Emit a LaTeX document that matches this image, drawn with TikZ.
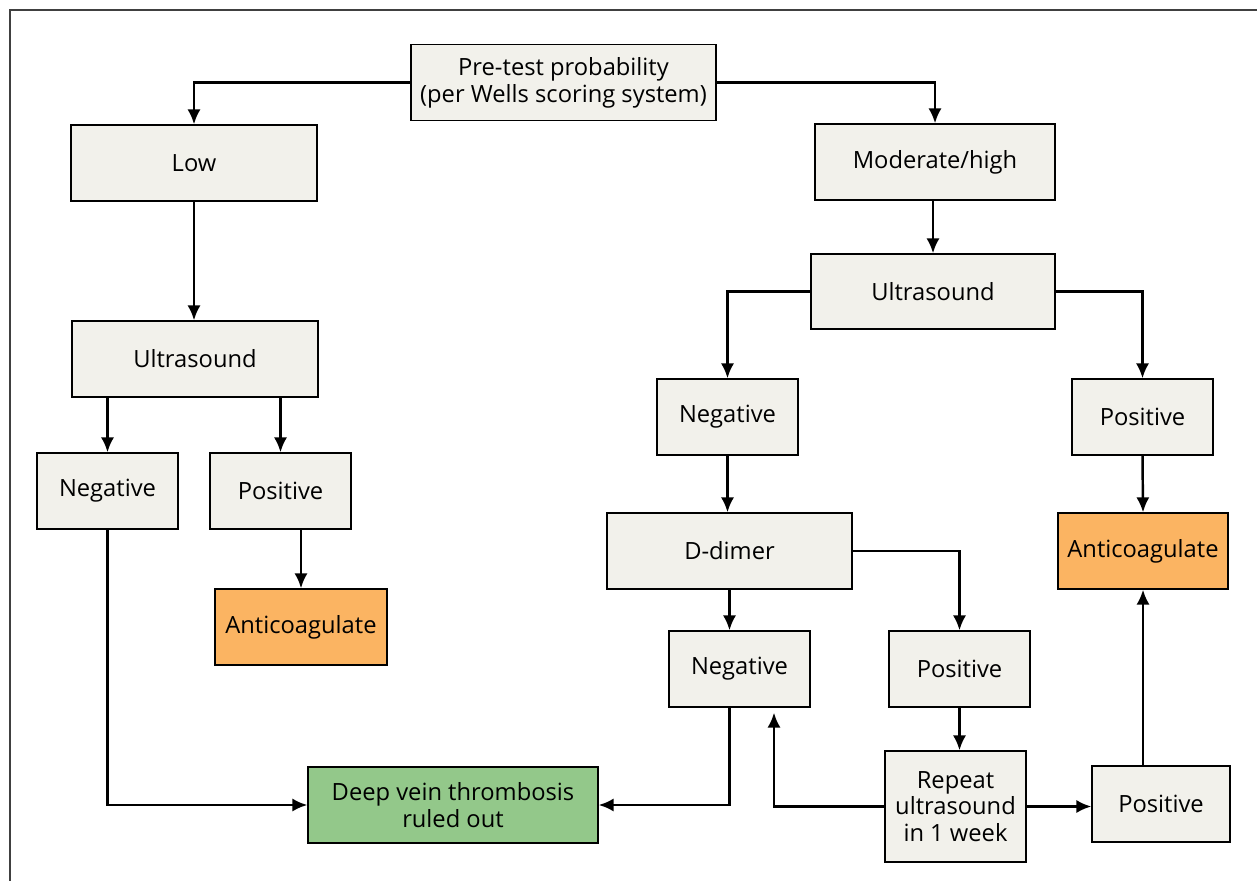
\documentclass[tikz,border=0pt]{standalone}
\usepackage{fontspec}
\setmainfont{Open Sans}
\usetikzlibrary{arrows.meta}

\definecolor{boxfill}{RGB}{242,241,235}
\definecolor{antiorange}{RGB}{251,180,98}
\definecolor{outgreen}{RGB}{147,200,138}

\tikzset{
  box/.style={draw, fill=boxfill, line width=0.8pt, minimum height=1.52cm,
    align=center, inner sep=2pt, font=\fontsize{13.5}{15.2}\selectfont},
  anti/.style={box, fill=antiorange},
  ruled/.style={box, fill=outgreen},
  arr/.style={-{Latex[length=8.5pt,width=7.5pt]}, line width=1.4pt}
}

\begin{document}
\begin{tikzpicture}[x=0.02cm,y=-0.02cm]
\useasboundingbox (0,0) rectangle (1257,881);
\draw[black!75, line width=0.6pt] (1257,10) -- (10,10) -- (10,881);

% top and left branch
\node[box, minimum width=6.1cm] (pre) at (563.5,82.5) {Pre-test probability\\(per Wells scoring system)};
\node[box, minimum width=4.92cm] (low) at (194,163) {Low};
\node[box, minimum width=4.92cm] (ultraL) at (195,359) {Ultrasound};
\node[box, minimum width=2.82cm] (negL) at (107.5,491) {Negative};
\node[box, minimum width=2.82cm] (posL) at (280.5,491) {Positive};
\node[anti, minimum width=3.44cm] (antiL) at (301,627) {Anticoagulate};

% right branch
\node[box, minimum width=4.8cm] (modhigh) at (935,162) {Moderate/high};
\node[box, minimum width=4.88cm, minimum height=1.5cm] (ultraR) at (933,291.5) {Ultrasound};
\node[box, minimum width=2.82cm] (negR) at (727.5,417) {Negative};
\node[box, minimum width=2.82cm] (posR) at (1142.5,417) {Positive};
\node[anti, minimum width=3.4cm] (antiR) at (1143,551) {Anticoagulate};
\node[box, minimum width=4.9cm] (ddimer) at (729.5,551) {D-dimer};
\node[box, minimum width=2.82cm] (negD) at (739.5,669) {Negative};
\node[box, minimum width=2.82cm] (posD) at (959.5,669) {Positive};
\node[box, minimum width=2.82cm, minimum height=2.22cm] (rep) at (955.5,806.5) {Repeat\\ultrasound\\in 1 week};
\node[box, minimum width=2.76cm] (posRep) at (1161,804) {Positive};
\node[ruled, minimum width=5.8cm] (dvt) at (453,805) {Deep vein thrombosis\\ruled out};

% connectors
\draw[arr] (pre.west) -| (low.north);
\draw[arr] (pre.east) -| (modhigh.north);
\draw[arr] (low.south) -- (low.south |- ultraL.north);
\draw[arr] (negL.north |- ultraL.south) -- (negL.north);
\draw[arr] (posL.north |- ultraL.south) -- (posL.north);
\draw[arr] (antiL.north |- posL.south) -- (antiL.north);
\draw[arr] (negL.south) |- (dvt.west);

\draw[arr] (ultraR.north |- modhigh.south) -- (ultraR.north);
\draw[arr] (ultraR.west) -| (negR.north);
\draw[arr] (ultraR.east) -| (posR.north);
\draw[arr] (posR.south) -- (antiR.north);
\draw[arr] (negR.south) -- (negR.south |- ddimer.north);
\draw[arr] (ddimer.east) -| (posD.north);
\draw[arr] (ddimer.south) -- (ddimer.south |- negD.north);
\draw[arr] (ddimer.south |- negD.south) |- (dvt.east);
\draw[arr] (posD.south) -- (posD.south |- rep.north);
\draw[arr] (rep.west) -| ([xshift=0.69cm, yshift=-0.1cm]negD.south);
\draw[arr] (rep.east) -- (rep.east -| posRep.west);
\draw[arr] (antiR.south |- posRep.north) -- (antiR.south);
\end{tikzpicture}
\end{document}
